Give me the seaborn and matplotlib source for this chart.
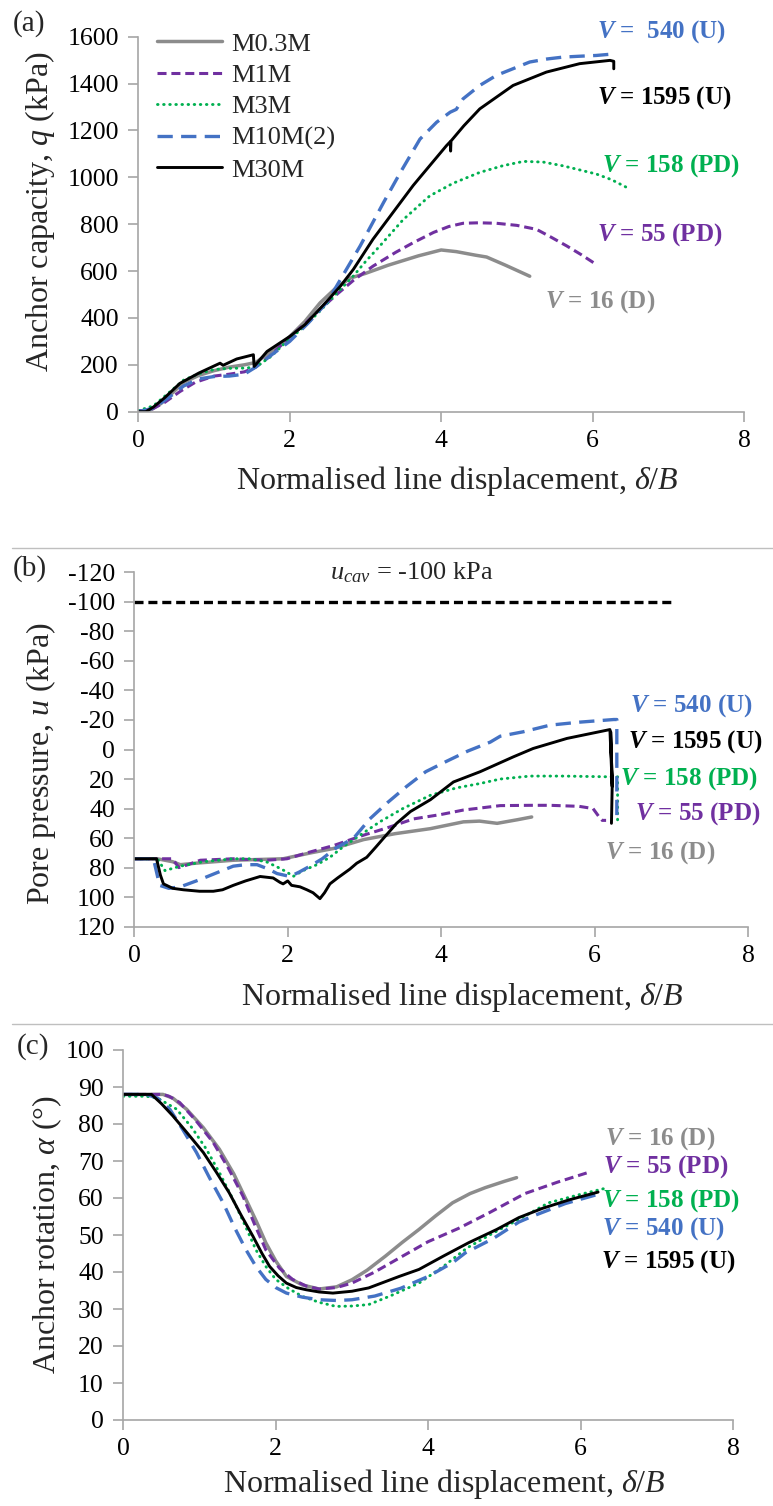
import matplotlib
matplotlib.use("Agg")
import matplotlib.pyplot as plt
from matplotlib.lines import Line2D
import seaborn as sns

# ---------------- data ----------------
SERIES = ["M0.3M", "M1M", "M3M", "M10M(2)", "M30M"]
V_TEXT = ["16 (D)", "55 (PD)", "158 (PD)", "540 (U)", "1595 (U)"]

# (a) anchor capacity q (kPa) vs normalised line displacement
A_X_M03 = [0.05, 0.15, 0.3, 0.45, 0.6, 0.8, 1.0, 1.2, 1.4, 1.55, 1.75, 1.96, 2.2, 2.4, 2.6, 2.8, 3.0, 3.3, 3.7, 4.0, 4.2, 4.45, 4.6, 4.85, 5.17]
A_Q_M03 = [0, 5, 35, 80, 125, 155, 175, 190, 200, 210, 255, 307, 385, 464, 525, 570, 590, 625, 665, 690, 683, 668, 660, 625, 578]
A_X_M1 = [0, 0.15, 0.35, 0.55, 0.75, 1.0, 1.2, 1.4, 1.55, 1.75, 1.96, 2.2, 2.4, 2.62, 2.84, 3.1, 3.4, 3.63, 3.9, 4.1, 4.29, 4.5, 4.73, 5.0, 5.26, 5.45, 5.66, 5.85, 6.05]
A_Q_M1 = [5, 5, 40, 86, 125, 152, 160, 170, 190, 240, 307, 375, 436, 500, 560, 621, 680, 721, 765, 790, 804, 806, 804, 795, 778, 745, 707, 670, 628]
A_X_M3 = [0, 0.2, 0.4, 0.6, 0.8, 1.0, 1.2, 1.4, 1.55, 1.75, 1.96, 2.2, 2.4, 2.62, 2.84, 3.0, 3.19, 3.5, 3.85, 4.16, 4.51, 4.82, 5.09, 5.35, 5.61, 5.85, 6.05, 6.25, 6.45]
A_Q_M3 = [5, 25, 80, 135, 162, 180, 185, 186, 190, 235, 300, 365, 430, 505, 579, 640, 707, 820, 921, 975, 1021, 1050, 1068, 1065, 1049, 1030, 1014, 990, 957]
A_X_M10 = [0, 0.2, 0.4, 0.6, 0.8, 1.0, 1.2, 1.4, 1.55, 1.75, 2.0, 2.25, 2.5, 2.67, 2.93, 3.24, 3.46, 3.72, 3.94, 4.12, 4.2, 4.29, 4.51, 4.73, 5.0, 5.17, 5.4, 5.61, 5.85, 6.05, 6.3]
A_Q_M10 = [0, 15, 60, 110, 140, 150, 152, 160, 190, 240, 300, 380, 470, 564, 707, 893, 1020, 1163, 1235, 1278, 1290, 1335, 1392, 1435, 1470, 1492, 1505, 1513, 1517, 1520, 1527]
A_X_M30 = [0, 0.1, 0.2, 0.35, 0.55, 0.8, 1.0, 1.08, 1.12, 1.3, 1.52, 1.53, 1.7, 2.0, 2.2, 2.49, 2.67, 2.84, 3.1, 3.41, 3.63, 3.72, 4.07, 4.12, 4.125, 4.13, 4.3, 4.51, 4.95, 5.39, 5.83, 6.23, 6.28, 6.28]
A_Q_M30 = [0, 0, 20, 60, 121, 165, 195, 207, 198, 225, 243, 193, 257, 321, 371, 471, 536, 607, 736, 870, 965, 1000, 1135, 1152, 1112, 1155, 1220, 1292, 1392, 1449, 1485, 1499, 1495, 1463]

# (b) pore pressure u (kPa)
B_X_M03 = [0, 0.3, 0.5, 0.6, 0.8, 1.29, 1.94, 2.3, 2.6, 2.99, 3.4, 3.86, 4.29, 4.5, 4.73, 5.0, 5.18]
B_U_M03 = [74, 74, 76, 78, 77, 75, 74, 70, 67, 61, 57, 53.6, 49, 48.5, 50, 47.5, 45.7]
B_X_M1 = [0, 0.5, 0.58, 0.7, 0.86, 1.29, 1.72, 1.99, 2.25, 2.6, 2.99, 3.3, 3.64, 4.0, 4.29, 4.77, 5.16, 5.42, 5.8, 5.98, 6.05, 6.1, 6.15]
B_U_M1 = [74, 74, 80, 78, 75, 74, 75, 74, 70, 65, 58, 53, 47, 44, 41, 38, 37.8, 37.8, 38.5, 40, 45, 48, 48]
B_X_M3 = [0, 0.3, 0.4, 0.6, 0.9, 1.29, 1.5, 1.72, 1.88, 1.99, 2.07, 2.2, 2.38, 2.55, 2.72, 3.0, 3.2, 3.5, 3.86, 4.2, 4.51, 4.77, 5.16, 5.6, 6.2, 6.3, 6.3]
B_U_M3 = [74, 74, 82, 79, 76, 74, 74, 76, 80, 83, 86, 82, 78, 73, 66, 56, 49, 40, 31, 26, 23, 20, 18, 18, 18.5, 18.5, 50]
B_X_M10 = [0, 0.25, 0.33, 0.45, 0.6, 0.86, 1.05, 1.29, 1.45, 1.6, 1.75, 1.86, 2.03, 2.15, 2.29, 2.45, 2.62, 2.86, 3.07, 3.3, 3.55, 3.8, 4.07, 4.35, 4.64, 4.77, 5.07, 5.42, 5.8, 6.25, 6.29, 6.29]
B_U_M10 = [74, 74, 92, 94, 93, 88, 84, 79, 78, 78, 81, 84, 86, 83, 79, 74, 67, 60, 47, 36, 25, 15, 8, 1, -5, -9, -12, -16.5, -18.5, -20.3, -20.3, 50]
B_X_M30 = [0, 0.29, 0.34, 0.38, 0.5, 0.64, 0.85, 1.03, 1.15, 1.29, 1.45, 1.64, 1.81, 1.9, 1.94, 2.0, 2.05, 2.16, 2.25, 2.33, 2.42, 2.48, 2.55, 2.65, 2.81, 2.9, 3.03, 3.15, 3.25, 3.42, 3.6, 3.86, 4.16, 4.51, 4.94, 5.2, 5.64, 6.2, 6.23, 6.21, 6.23, 6.22]
B_U_M30 = [74, 74, 85, 91, 94, 95, 96, 96, 95, 92, 89, 86, 87, 90, 91, 89, 92, 93, 95, 97, 101, 97, 91, 87, 81, 77, 73, 66, 60, 50, 42, 34, 22, 15, 5, -0.7, -7.5, -13.5, 25, -12, 24, 50]
U_CAV = -100
U_CAV_X = [0, 7]

# (c) anchor rotation alpha (deg)
C_X_M03 = [0, 0.3, 0.52, 0.65, 0.83, 1.05, 1.26, 1.45, 1.61, 1.75, 1.87, 2.0, 2.14, 2.35, 2.57, 2.8, 3.0, 3.2, 3.44, 3.66, 3.88, 4.1, 4.32, 4.55, 4.75, 5.0, 5.16]
C_A_M03 = [88, 88, 88, 87, 84, 79, 73.2, 66.5, 59.6, 53.5, 47.9, 43, 38.8, 36.5, 35.4, 36, 37.9, 40.5, 44.3, 48, 51.5, 55.2, 58.7, 61.2, 62.8, 64.5, 65.5]
C_X_M1 = [0, 0.3, 0.52, 0.6, 0.74, 0.95, 1.18, 1.38, 1.57, 1.72, 1.87, 2.05, 2.22, 2.4, 2.57, 2.8, 3.0, 3.3, 3.64, 4.0, 4.4, 4.8, 5.27, 5.7, 6.1]
C_A_M1 = [88, 88, 88, 87.5, 85.8, 81, 75, 68, 60.5, 53, 46, 41, 38, 36.2, 35.4, 35.8, 37, 40, 44, 48.2, 51.8, 56, 61.2, 64.3, 66.9]
C_X_M3 = [0, 0.3, 0.45, 0.7, 0.9, 1.09, 1.27, 1.44, 1.6, 1.74, 1.87, 2.0, 2.17, 2.35, 2.57, 2.79, 3.0, 3.22, 3.5, 3.88, 4.2, 4.51, 4.85, 5.19, 5.58, 6.0, 6.36]
C_A_M3 = [87.5, 87.5, 87, 84, 79, 73.2, 66.5, 59.6, 52.5, 46, 41.5, 38, 35.5, 33.4, 31.8, 30.7, 30.8, 31.2, 33.5, 37, 41.5, 46.5, 50.5, 54.2, 58.7, 61, 62.8]
C_X_M10 = [0, 0.3, 0.45, 0.61, 0.78, 0.96, 1.13, 1.31, 1.46, 1.61, 1.74, 1.87, 2.0, 2.14, 2.35, 2.57, 2.8, 3.0, 3.3, 3.64, 4.0, 4.32, 4.49, 4.85, 5.19, 5.36, 5.8, 6.23]
C_A_M10 = [88, 88, 87, 84, 78.5, 72.3, 65.5, 58.7, 52, 46, 41.5, 38, 35.8, 34.3, 33.2, 32.5, 32.3, 32.5, 33.5, 35.6, 38.8, 42.5, 45.2, 49, 53.5, 55, 58.5, 61]
C_X_M30 = [0, 0.2, 0.37, 0.5, 0.65, 0.85, 1.05, 1.22, 1.39, 1.55, 1.7, 1.82, 1.92, 2.03, 2.14, 2.27, 2.4, 2.57, 2.75, 3.0, 3.22, 3.62, 3.88, 4.2, 4.53, 4.9, 5.19, 5.5, 5.85, 6.23]
C_A_M30 = [88, 88, 88, 85.5, 82.2, 77.3, 72.3, 67, 61.4, 55.2, 49.7, 45, 41.5, 39, 37, 35.8, 35.2, 34.6, 34.3, 34.8, 35.7, 38.8, 40.7, 44.3, 47.9, 51.5, 54.7, 57.2, 59.5, 61.6]

X_TICKS = [0, 2, 4, 6, 8]
A_Y_TICKS = list(range(0, 1601, 200))
B_Y_TICKS = list(range(-120, 121, 20))
C_Y_TICKS = list(range(0, 101, 10))

# ---------------- styling ----------------
sns.set_theme(style="white")
plt.rcParams.update({
    "font.family": ["Liberation Serif", "DejaVu Serif"],
    "mathtext.fontset": "custom",
    "mathtext.rm": "Liberation Serif",
    "mathtext.it": "Liberation Serif:italic",
    "mathtext.bf": "Liberation Serif:bold",
    "mathtext.bfit": "Liberation Serif:italic:bold",
    "axes.unicode_minus": False,
    "lines.scale_dashes": False,
})

STYLE = {
    "M0.3M":   dict(color="#8c8c8c", lw=2.5, ls="-", cap="butt"),
    "M1M":     dict(color="#7030a0", lw=2.2, ls=(0, (6.5, 3.5)), cap="butt"),
    "M3M":     dict(color="#00b050", lw=2.1, ls=(0, (0.4, 4.0)), cap="round"),
    "M10M(2)": dict(color="#4472c4", lw=2.4, ls=(0, (11, 6)), cap="butt"),
    "M30M":    dict(color="#000000", lw=2.1, ls="-", cap="butt"),
}
LABEL_COLORS = {"M0.3M": "#8c8c8c", "M1M": "#7030a0", "M3M": "#00b050",
                "M10M(2)": "#4472c4", "M30M": "#000000"}
SPINE = "#a6a6a6"
TICK_FS = 18.5
LABEL_FS = 23
ANN_FS = 18

W, H = 773, 1506
fig = plt.figure(figsize=(W / 100, H / 100), dpi=100)


def px_axes(left, right, top, bottom):
    return fig.add_axes([left / W, 1 - bottom / H, (right - left) / W, (bottom - top) / H])


ax_a = px_axes(138.3, 744, 36.7, 411.7)
ax_b = px_axes(134.3, 748, 572.3, 926.7)
ax_c = px_axes(123.3, 733, 1050, 1420)


def draw(ax, x, y, name):
    st = STYLE[name]
    sns.lineplot(x=x, y=y, ax=ax, sort=False, estimator=None, color=st["color"],
                 lw=st["lw"], legend=False)
    line = ax.lines[-1]
    line.set_linestyle(st["ls"])
    line.set_dash_capstyle(st["cap"])
    line.set_solid_joinstyle("round")
    line.set_label(name)
    return line


def style_axes(ax, ylim, yticks):
    ax.set_xlim(0, 8)
    ax.set_ylim(*ylim)
    ax.set_xticks(X_TICKS)
    ax.set_yticks(yticks)
    for s in ("top", "right"):
        ax.spines[s].set_visible(False)
    for s in ("left", "bottom"):
        ax.spines[s].set_color(SPINE)
        ax.spines[s].set_linewidth(1.2)
    ax.tick_params(axis="both", which="major", direction="out", length=7, width=1.2,
                   color=SPINE, labelsize=TICK_FS, labelcolor="black",
                   left=True, bottom=True)
    ax.tick_params(axis="y", pad=7)
    ax.tick_params(axis="x", pad=6)
    ax.grid(False)
    ax.set_facecolor("white")


def v_label(ax, x, y, text, name, extra_space=False):
    sp = "  " if extra_space else " "
    ax.text(x, y, r"$\mathbfit{V}$ =" + sp + text, color=LABEL_COLORS[name],
            fontsize=ANN_FS, fontweight="bold", ha="left", va="center")


# ---- (a) ----
a_data = [(A_X_M03, A_Q_M03), (A_X_M1, A_Q_M1), (A_X_M3, A_Q_M3),
          (A_X_M10, A_Q_M10), (A_X_M30, A_Q_M30)]
handles = [draw(ax_a, x, y, n) for n, (x, y) in zip(SERIES, a_data)]
style_axes(ax_a, (0, 1600), A_Y_TICKS)
ax_a.set_xlabel(r"Normalised line displacement, $\delta/B$", fontsize=LABEL_FS)
ax_a.set_ylabel(r"Anchor capacity, $q$ (kPa)", fontsize=LABEL_FS)
ax_a.xaxis.set_label_coords(0.526, -0.140)
ax_a.yaxis.set_label_coords(-0.135, 0.533)
leg = ax_a.legend(handles=handles, labels=SERIES, loc="upper left",
                  bbox_to_anchor=(0.031, 1.012), frameon=False, fontsize=19,
                  handlelength=2.45, handletextpad=0.35, labelspacing=0.3,
                  borderpad=0, borderaxespad=0)
a_lab = {"M10M(2)": (6.06, 1620), "M30M": (6.06, 1342), "M3M": (6.12, 1049),
         "M1M": (6.06, 757), "M0.3M": (5.37, 471)}
for n, t in zip(SERIES, V_TEXT):
    v_label(ax_a, *a_lab[n], t, n, extra_space=(n == "M10M(2)"))

# ---- (b) ----
b_data = [(B_X_M03, B_U_M03), (B_X_M1, B_U_M1), (B_X_M3, B_U_M3),
          (B_X_M10, B_U_M10), (B_X_M30, B_U_M30)]
for n, (x, y) in zip(SERIES, b_data):
    draw(ax_b, x, y, n)
sns.lineplot(x=U_CAV_X, y=[U_CAV, U_CAV], ax=ax_b, color="black", lw=2.4,
             sort=False, estimator=None, legend=False)
ax_b.lines[-1].set_linestyle((0, (6.5, 3.5)))
style_axes(ax_b, (120, -120), B_Y_TICKS)
ax_b.set_xlabel(r"Normalised line displacement, $\delta/B$", fontsize=LABEL_FS)
ax_b.set_ylabel(r"Pore pressure, $u$ (kPa)", fontsize=LABEL_FS)
ax_b.xaxis.set_label_coords(0.534, -0.150)
ax_b.yaxis.set_label_coords(-0.124, 0.462)
ax_b.text(3.62, -119.5, r"$u_{cav}$ = -100 kPa", fontsize=19, ha="center", va="center")
b_lab = {"M10M(2)": (6.46, -30), "M30M": (6.44, -5.2), "M3M": (6.33, 19.7),
         "M1M": (6.53, 43.4), "M0.3M": (6.14, 69.5)}
for n, t in zip(SERIES, V_TEXT):
    v_label(ax_b, *b_lab[n], t, n)

# ---- (c) ----
c_data = [(C_X_M03, C_A_M03), (C_X_M1, C_A_M1), (C_X_M3, C_A_M3),
          (C_X_M10, C_A_M10), (C_X_M30, C_A_M30)]
for n, (x, y) in zip(SERIES, c_data):
    draw(ax_c, x, y, n)
style_axes(ax_c, (0, 100), C_Y_TICKS)
ax_c.set_xlabel(r"Normalised line displacement, $\delta/B$", fontsize=LABEL_FS)
ax_c.set_ylabel(r"Anchor rotation, $\alpha$ (°)", fontsize=LABEL_FS)
ax_c.xaxis.set_label_coords(0.527, -0.128)
ax_c.yaxis.set_label_coords(-0.098, 0.5)
c_lab = {"M0.3M": (6.32, 76), "M1M": (6.30, 68.6), "M3M": (6.28, 59.2),
         "M10M(2)": (6.28, 51.7), "M30M": (6.27, 42.9)}
for n, t in zip(SERIES, V_TEXT):
    v_label(ax_c, *c_lab[n], t, n)

# ---- panel letters and separators ----
for letter, (px, py) in zip(["(a)", "(b)", "(c)"], [(29, 24), (30, 569), (33, 1047)]):
    fig.text(px / W, 1 - py / H, letter, fontsize=21, ha="center", va="center")
for py in (548, 1024):
    fig.add_artist(Line2D([12 / W, 1.0], [1 - py / H, 1 - py / H], color="#bfbfbf",
                          lw=1.0, transform=fig.transFigure))

fig.savefig("out.png", dpi=100, facecolor="white")
